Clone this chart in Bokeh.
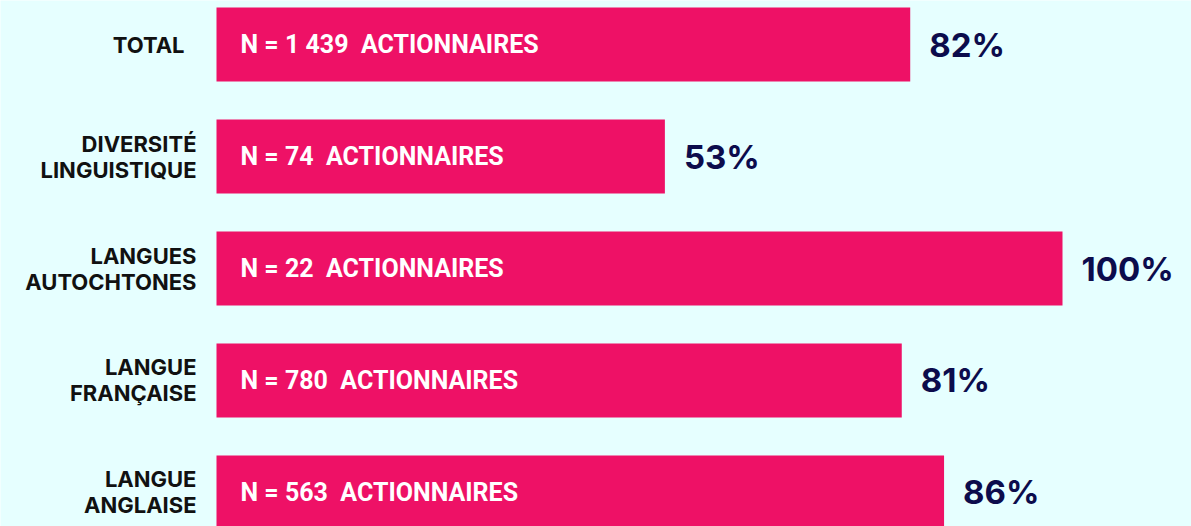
import re
from bokeh.plotting import figure
from bokeh.models import ColumnDataSource, Range1d
from bokeh.embed import file_html
from bokeh.resources import INLINE
from bokeh.core.properties import value

# ---- data ----
categories = ["TOTAL", "DIVERSITÉ\nLINGUISTIQUE", "LANGUES\nAUTOCHTONES",
              "LANGUE\nFRANÇAISE", "LANGUE\nANGLAISE"]
percent = [82, 53, 100, 81, 86]
counts = ["1 439", "74", "22", "780", "563"]

# ---- style ----
BG = "#e6ffff"
PINK = "#ee1166"
NAVY = "#0c0c4c"
label_shift = [-32, -20, -20, -20, -20]

src = ColumnDataSource(dict(
    y=list(range(len(categories))),
    cat=categories,
    pct=percent,
    pct_label=[f"{v}%" for v in percent],
    ntext=[f"N = {c}\u00a0\u00a0ACTIONNAIRES" for c in counts],
    dx=label_shift,
))

p = figure(width=1191, height=526,
           x_range=Range1d(-25.532, 115.248),
           y_range=Range1d(4.3036, -0.3929),
           output_backend="svg", toolbar_location=None,
           x_axis_location=None, y_axis_location=None,
           min_border=0)
p.grid.visible = False
p.outline_line_color = None
p.background_fill_color = BG
p.border_fill_color = BG

p.hbar(y="y", left=0, right="pct", height=0.6607, fill_color=PINK,
       line_color=None, source=src)

p.text(x=0, y="y", text="cat", x_offset="dx", text_align="right",
       text_baseline="middle", text_font=value("Inter"),
       text_font_style="bold", text_font_size="22px",
       text_line_height=1.0, text_color="#111111", source=src)

p.text(x=0, y="y", text="ntext", x_offset=24, text_align="left",
       text_baseline="middle", text_font=value("Roboto"),
       text_font_style="bold", text_font_size="25px",
       text_color="white", source=src)

p.text(x="pct", y="y", text="pct_label", x_offset=19, text_align="left",
       text_baseline="middle", text_font=value("Inter"),
       text_font_style="bold", text_font_size="33px",
       text_color=NAVY, source=src)

html = file_html(p, INLINE)
html = re.sub(r"<body([^>]*)>", r'<body\1 style="background:%s;margin:0">' % BG, html, count=1)
open("out.html", "w").write(html)
